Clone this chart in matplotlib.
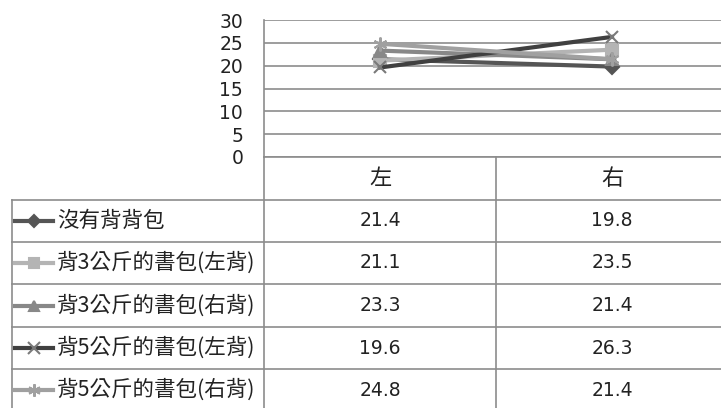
import matplotlib
matplotlib.use("Agg")
from matplotlib import pyplot as plt

plt.rcParams['font.family'] = ['Noto Sans CJK TC', 'DejaVu Sans']

categories = ['左', '右']
series_names = ['沒有背背包', '背3公斤的書包(左背)', '背3公斤的書包(右背)',
                '背5公斤的書包(左背)', '背5公斤的書包(右背)']
values = [
    [21.4, 19.8],
    [21.1, 23.5],
    [23.3, 21.4],
    [19.6, 26.3],
    [24.8, 21.4],
]
yticks = [0, 5, 10, 15, 20, 25, 30]

colors = ['#555555', '#b4b4b4', '#888888', '#404040', '#a0a0a0']
marker_colors = ['#555555', '#b4b4b4', '#888888', '#7a7a7a', '#a0a0a0']
markers = ['D', 's', '^', 'x', (6, 2, 0)]
msizes = [7, 8, 8, 9, 10]

W, H = 721, 408
fig = plt.figure(figsize=(W / 100, H / 100), dpi=100)

# plot area (pixel coords)
px0, px1, py0, py1 = 264, 721, 157, 20
ax = fig.add_axes([px0 / W, 1 - py0 / H, (px1 - px0) / W, (py0 - py1) / H])
ax.set_xlim(-0.5, 1.47)
ax.set_ylim(0, 30)
ax.set_yticks(yticks)
ax.set_xticks([])
ax.grid(axis='y', color='#8c8c8c', linewidth=1.2)
for s in ['top', 'right', 'bottom']:
    ax.spines[s].set_visible(False)
ax.spines['left'].set_color('#8c8c8c')
ax.spines['left'].set_linewidth(1.2)
ax.tick_params(axis='y', length=0, pad=15, labelsize=13.5, labelcolor='#222222')
for lab in ax.get_yticklabels():
    lab.set_fontfamily(['DejaVu Sans'])

for i in range(len(values)):
    ax.plot(range(len(categories)), values[i], color=colors[i], linewidth=3,
            marker=markers[i], markersize=msizes[i],
            markerfacecolor=marker_colors[i], markeredgecolor=marker_colors[i],
            markeredgewidth=1.5, clip_on=False, zorder=3 + i)

# data table
tab = fig.add_axes([0, 0, 1, 1])
tab.set_xlim(0, W)
tab.set_ylim(H, 0)
tab.axis('off')
gc = '#8c8c8c'
rows = [157, 200, 242, 284, 327, 369, 411]
centers = [380, 612]

# header row
tab.plot([264, 721], [157, 157], color=gc, lw=1.2)
tab.plot([264, 264], [157, 408], color=gc, lw=1.2)
tab.plot([496, 496], [157, 408], color=gc, lw=1.2)
for j, c in enumerate(categories):
    tab.text(centers[j], (rows[0] + rows[1]) / 2, c, ha='center', va='center',
             fontsize=16, color='#222222')

for r in range(1, 6):
    tab.plot([12, 721], [rows[r], rows[r]], color=gc, lw=1.2)
tab.plot([12, 12], [200, 408], color=gc, lw=1.2)

for i, name in enumerate(series_names):
    yc = (rows[i + 1] + rows[i + 2]) / 2
    tab.plot([15, 53], [yc, yc], color=colors[i], lw=3)
    tab.plot([34], [yc], marker=markers[i], markersize=msizes[i] - 1,
             color=marker_colors[i], markeredgewidth=1.5)
    tab.text(57, yc, name, ha='left', va='center', fontsize=15.5, color='#222222')
    for j in range(len(categories)):
        tab.text(centers[j], yc, f'{values[i][j]:.1f}', ha='center', va='center',
                 fontsize=13.5, color='#222222', family=['DejaVu Sans'])

fig.savefig('out.png', dpi=100)
